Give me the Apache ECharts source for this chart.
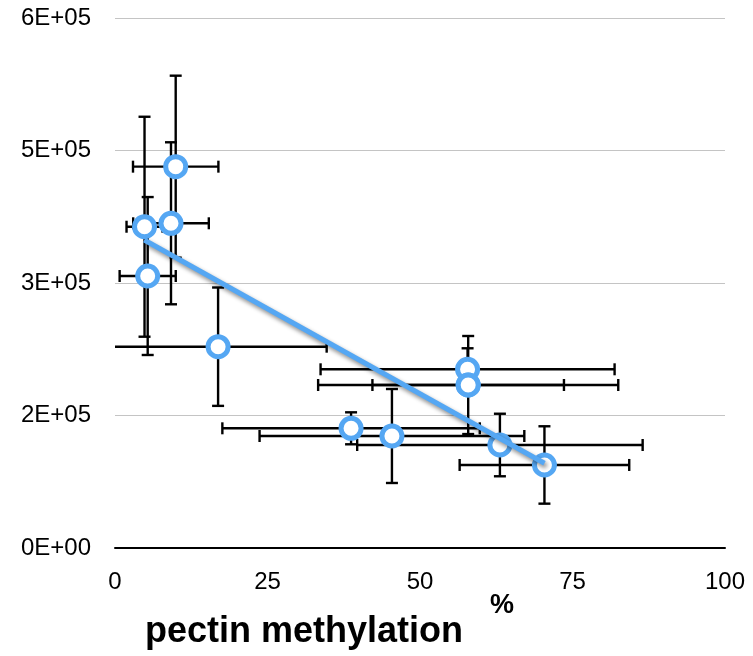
<!DOCTYPE html>
<html>
<head>
<meta charset="utf-8">
<script src="https://cdn.jsdelivr.net/npm/echarts@6/dist/echarts.min.js"></script>
<style>
  html, body { margin: 0; padding: 0; background: #fff; }
  #main { width: 753px; height: 656px; }
</style>
</head>
<body>
<div id="main"></div>
<script>
// pectin methylation (%) vs value
var methylation = [9.95, 9.18, 4.84, 5.36, 16.9, 57.8, 57.9, 57.9, 38.7, 45.4, 63.1, 70.4];
var values = [431700, 367600, 363700, 307900, 227900, 202300, 184500, 184500, 135500, 126800, 116600, 94000];
var xErr = [7.0, 6.2, 2.95, 4.6, 17.8, 24.1, 24.6, 15.7, 21.1, 21.7, 23.4, 13.9];
var yErr = [103000, 91700, 124500, 89400, 67000, 23800, 55500, 9000, 18100, 53200, 35400, 43800];

// linear trend line ends
var trendX = [4.8, 70.4];
var trendY = [348700, 95900];

var xTicks = [0, 25, 50, 75, 100];

var blue = '#55a7f3';

var points = [];
var errData = [];
for (var i = 0; i < methylation.length; i++) {
    points.push([methylation[i], values[i]]);
    errData.push([methylation[i], values[i], xErr[i], yErr[i]]);
}
var trend = [[trendX[0], trendY[0]], [trendX[1], trendY[1]]];

function sci(v) {
    var s = Number(v).toExponential(0);
    var parts = s.split('e');
    var sign = parts[1].charAt(0);
    var e = Math.abs(parseInt(parts[1], 10));
    return parts[0] + 'E' + sign + (e < 10 ? '0' + e : e);
}

function renderErr(params, api) {
    var x = api.value(0), y = api.value(1);
    var dx = api.value(2), dy = api.value(3);
    var c = api.coord([x, y]);
    var l = api.coord([x - dx, y]);
    var r = api.coord([x + dx, y]);
    var t = api.coord([x, y + dy]);
    var b = api.coord([x, y - dy]);
    var cap = 6;
    var st = { stroke: '#000', lineWidth: 2.4 };
    return {
        type: 'group',
        children: [
            { type: 'line', shape: { x1: l[0], y1: c[1], x2: r[0], y2: c[1] }, style: st },
            { type: 'line', shape: { x1: l[0], y1: c[1] - cap, x2: l[0], y2: c[1] + cap }, style: st },
            { type: 'line', shape: { x1: r[0], y1: c[1] - cap, x2: r[0], y2: c[1] + cap }, style: st },
            { type: 'line', shape: { x1: c[0], y1: t[1], x2: c[0], y2: b[1] }, style: st },
            { type: 'line', shape: { x1: c[0] - cap, y1: t[1], x2: c[0] + cap, y2: t[1] }, style: st },
            { type: 'line', shape: { x1: c[0] - cap, y1: b[1], x2: c[0] + cap, y2: b[1] }, style: st }
        ]
    };
}

var myChart = echarts.init(document.getElementById('main'), null, { renderer: 'canvas' });

var option = {
    animation: false,
    backgroundColor: '#fff',
    grid: { left: 115, right: 28, top: 18, bottom: 108, containLabel: false, outerBoundsMode: 'none' },
    xAxis: {
        type: 'value',
        min: 0,
        max: 100,
        interval: 25,
        axisLine: { show: true, onZero: false, lineStyle: { color: '#000', width: 2 } },
        axisTick: { show: false },
        splitLine: { show: false },
        axisLabel: {
            margin: 22,
            fontSize: 24,
            color: '#000',
            fontFamily: 'Liberation Sans, Arial, sans-serif',
            formatter: function (v) { return xTicks.indexOf(v) >= 0 ? String(v) : ''; }
        }
    },
    yAxis: {
        type: 'value',
        min: 0,
        max: 600000,
        interval: 150000,
        axisLine: { show: false },
        axisTick: { show: false },
        splitLine: { show: true, lineStyle: { color: '#c4c4c4', width: 1 } },
        axisLabel: {
            margin: 24,
            fontSize: 24,
            color: '#000',
            fontFamily: 'Liberation Sans, Arial, sans-serif',
            formatter: sci
        }
    },
    graphic: [
        {
            type: 'text', left: 490, top: 592,
            style: { text: '%', fontSize: 27, fontWeight: 'bold', fill: '#000', fontFamily: 'Liberation Sans, Arial, sans-serif' }
        },
        {
            type: 'text', left: 145, top: 614,
            style: { text: 'pectin methylation', fontSize: 36, fontWeight: 'bold', fill: '#000', fontFamily: 'Liberation Sans, Arial, sans-serif' }
        }
    ],
    series: [
        {
            name: 'error',
            type: 'custom',
            renderItem: renderErr,
            data: errData,
            clip: true,
            z: 1
        },
        {
            name: 'points',
            type: 'scatter',
            data: points,
            symbol: 'circle',
            symbolSize: 20,
            itemStyle: { color: '#fff', borderColor: blue, borderWidth: 5, opacity: 1 },
            z: 2
        },
        {
            name: 'trend',
            type: 'line',
            data: trend,
            symbol: 'none',
            lineStyle: {
                color: blue, width: 5,
                shadowColor: 'rgba(0,0,0,0.45)', shadowBlur: 4, shadowOffsetX: 2, shadowOffsetY: 3
            },
            z: 3
        }
    ]
};

myChart.setOption(option);
window.addEventListener('resize', myChart.resize);
</script>
</body>
</html>
